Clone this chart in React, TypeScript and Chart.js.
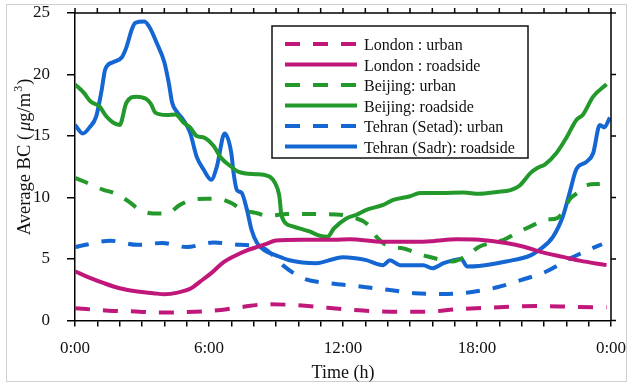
import React, { useEffect, useRef } from 'react';
import { Chart, registerables } from 'chart.js';

Chart.register(...registerables);

const FONT = '"Liberation Serif", "Times New Roman", serif';

// ---- Data (hours of day, BC in µg/m³) ----
const londonUrbanHours = [0, 1.5, 2.9, 3.6, 4.8, 6.2, 7.4, 8.6, 10.0, 11.3, 12.5, 14.1, 15.8, 17.1, 18.3, 19.5, 20.8, 22.2, 23.5, 23.8];
const londonUrbanValues = [1.0, 0.8, 0.72, 0.65, 0.67, 0.8, 1.08, 1.32, 1.24, 1.04, 0.86, 0.72, 0.72, 0.91, 1.02, 1.12, 1.18, 1.12, 1.08, 1.08];

const londonRoadHours = [0, 0.7, 1.3, 2.0, 2.8, 3.5, 4.0, 4.6, 5.2, 5.6, 6.1, 6.6, 7.1, 7.7, 8.2, 8.6, 9.0, 10.1, 11.6, 12.3, 13.8, 15.3, 16.0, 17.1, 18.1, 19.3, 20.1, 20.8, 21.9, 22.6, 23.8];
const londonRoadValues = [4.0, 3.45, 3.03, 2.62, 2.35, 2.22, 2.13, 2.27, 2.62, 3.16, 3.85, 4.66, 5.2, 5.7, 6.0, 6.25, 6.5, 6.56, 6.56, 6.6, 6.4, 6.4, 6.45, 6.6, 6.56, 6.3, 6.0, 5.6, 5.15, 4.87, 4.5];

const beijingUrbanHours = [0, 0.4, 1.3, 1.7, 2.5, 2.8, 3.5, 4.1, 4.7, 5.2, 5.9, 6.4, 7.0, 7.5, 8.2, 8.6, 9.5, 11.1, 12.3, 13.2, 13.5, 14.1, 14.6, 15.3, 15.8, 16.5, 16.9, 17.7, 18.1, 18.9, 19.2, 19.9, 20.4, 21.1, 21.6, 22.2, 22.5, 22.9, 23.5];
const beijingUrbanValues = [11.6, 11.3, 10.6, 10.4, 9.55, 9.1, 8.7, 8.7, 9.4, 9.8, 9.9, 9.9, 9.55, 9.0, 8.7, 8.5, 8.65, 8.65, 8.46, 7.65, 6.8, 6.0, 5.9, 5.5, 5.2, 4.9, 4.8, 5.5, 6.0, 6.4, 6.56, 7.24, 7.65, 8.2, 8.33, 9.96, 10.37, 11.0, 11.1];

const beijingRoadHours = [0, 0.4, 0.7, 1.1, 1.4, 1.7, 2.0, 2.3, 2.75, 3.2, 3.4, 3.6, 4.1, 4.5, 4.85, 5.15, 5.45, 5.8, 6.2, 6.55, 7.0, 7.3, 8.1, 8.45, 8.95, 9.15, 9.25, 9.75, 10.5, 10.95, 11.3, 11.6, 12.15, 12.6, 13.05, 13.8, 14.25, 15.0, 15.45, 16.4, 17.4, 18.1, 18.9, 19.5, 19.9, 20.4, 20.7, 21.05, 21.55, 22.0, 22.45, 22.75, 23.2, 23.8];
const beijingRoadValues = [19.2, 18.5, 17.8, 17.4, 16.6, 16.1, 15.9, 17.7, 18.2, 18.0, 17.6, 16.9, 16.7, 16.75, 16.1, 15.7, 15.0, 14.85, 14.2, 13.2, 12.5, 12.1, 11.9, 11.85, 11.2, 10.1, 8.5, 7.65, 7.24, 6.9, 6.8, 7.5, 8.3, 8.6, 9.0, 9.4, 9.8, 10.1, 10.37, 10.37, 10.4, 10.3, 10.45, 10.6, 10.96, 12.0, 12.4, 12.7, 13.6, 14.85, 16.3, 16.75, 18.2, 19.2];

const tehranUrbanHours = [0, 1.6, 2.8, 3.9, 5.0, 6.2, 7.4, 8.3, 8.8, 9.3, 10.2, 11.4, 12.6, 14.0, 15.2, 16.4, 17.7, 18.9, 20.0, 21.1, 22.2, 23.2, 23.6];
const tehranUrbanValues = [5.97, 6.48, 6.15, 6.3, 5.97, 6.34, 6.15, 6.0, 5.4, 4.5, 3.44, 3.03, 2.8, 2.5, 2.22, 2.16, 2.3, 2.7, 3.3, 3.98, 5.07, 5.9, 6.2];

const tehranRoadHours = [0, 0.35, 0.65, 0.95, 1.2, 1.35, 1.7, 2.1, 2.3, 2.55, 2.7, 3.1, 3.35, 3.65, 4.0, 4.2, 4.35, 4.55, 4.85, 5.15, 5.45, 5.75, 6.1, 6.35, 6.7, 7.0, 7.1, 7.25, 7.45, 7.7, 7.9, 8.15, 8.45, 9.0, 9.6, 10.8, 12.0, 13.0, 13.8, 14.1, 14.55, 15.6, 16.0, 16.5, 16.95, 17.3, 17.55, 18.1, 19.3, 20.4, 20.8, 21.4, 21.85, 22.15, 22.45, 22.9, 23.2, 23.5, 23.7, 23.95];
const tehranRoadValues = [15.9, 15.2, 15.7, 16.6, 18.8, 20.4, 21.0, 21.4, 22.2, 23.7, 24.2, 24.3, 23.8, 22.6, 21.0, 19.3, 17.7, 17.0, 16.3, 15.3, 13.3, 12.3, 11.45, 12.5, 15.2, 13.6, 12.0, 10.6, 10.4, 9.0, 7.4, 6.3, 5.75, 5.3, 4.9, 4.66, 5.15, 4.93, 4.5, 4.9, 4.5, 4.5, 4.25, 4.66, 4.9, 5.0, 4.4, 4.44, 4.8, 5.3, 5.75, 6.8, 8.5, 10.4, 12.3, 12.9, 13.6, 15.9, 15.7, 16.5];

const seriesLabels = ['London : urban', 'London : roadside', 'Beijing: urban', 'Beijing: roadside', 'Tehran (Setad): urban', 'Tehran (Sadr): roadside'];
const xTickHours = [0, 6, 12, 18, 24];
const yTickValues = [0, 5, 10, 15, 20, 25];

const MAGENTA = '#C0187A';
const GREEN = '#22992A';
const BLUE = '#1466D2';

function pts(h: number[], v: number[]) {
  return h.map((x, i) => ({ x, y: v[i] }));
}

const seriesDefs = [
  { h: londonUrbanHours, v: londonUrbanValues, color: MAGENTA, dash: [15, 13] },
  { h: londonRoadHours, v: londonRoadValues, color: MAGENTA, dash: [] as number[] },
  { h: beijingUrbanHours, v: beijingUrbanValues, color: GREEN, dash: [14, 13] },
  { h: beijingRoadHours, v: beijingRoadValues, color: GREEN, dash: [] as number[] },
  { h: tehranUrbanHours, v: tehranUrbanValues, color: BLUE, dash: [14, 13] },
  { h: tehranRoadHours, v: tehranRoadValues, color: BLUE, dash: [] as number[] },
];

function zeroPad(s: any) {
  s.paddingTop = 0;
  s.paddingBottom = 0;
  s.paddingLeft = 0;
  s.paddingRight = 0;
}

const framePlugin = {
  id: 'frame',
  beforeDraw(chart: any) {
    const ctx = chart.ctx;
    ctx.save();
    ctx.fillStyle = '#fff';
    ctx.fillRect(0, 0, chart.width, chart.height);
    ctx.strokeStyle = '#cfcfcf';
    ctx.lineWidth = 1;
    ctx.strokeRect(6.5, 4.5, 620, 377);
    ctx.restore();
  },
  afterDraw(chart: any) {
    const ctx = chart.ctx;
    const { left, right, top, bottom } = chart.chartArea;
    const xs = chart.scales.x;
    const ys = chart.scales.y;
    ctx.save();
    ctx.strokeStyle = '#000';
    ctx.lineWidth = 1.5;
    ctx.beginPath();
    ctx.moveTo(left, top);
    ctx.lineTo(right, top);
    ctx.lineTo(right, bottom);
    for (let h = 0; h <= 24; h++) {
      const px = xs.getPixelForValue(h);
      ctx.moveTo(px, top);
      ctx.lineTo(px, top - 5);
    }
    for (const v of yTickValues) {
      const py = ys.getPixelForValue(v);
      ctx.moveTo(right, py);
      ctx.lineTo(right + 5, py);
    }
    ctx.stroke();

    // y-axis title
    ctx.translate(25, 157);
    ctx.rotate(-Math.PI / 2);
    ctx.fillStyle = '#111';
    ctx.textBaseline = 'middle';
    const parts = [
      { t: 'Average BC (', f: `18.5px ${FONT}`, dy: 0, gap: 3 },
      { t: 'μ', f: `italic 18.5px ${FONT}`, dy: 0, gap: 0 },
      { t: 'g/m', f: `18.5px ${FONT}`, dy: 0, gap: 1 },
      { t: '3', f: `12px ${FONT}`, dy: -6, gap: 1 },
      { t: ')', f: `18.5px ${FONT}`, dy: 0, gap: 0 },
    ];
    let total = 0;
    for (const p of parts) {
      ctx.font = p.f;
      total += ctx.measureText(p.t).width + p.gap;
    }
    let cx = -total / 2;
    for (const p of parts) {
      ctx.font = p.f;
      ctx.fillText(p.t, cx, p.dy);
      cx += ctx.measureText(p.t).width + p.gap;
    }
    ctx.restore();
  },
};

const legendPlugin = {
  id: 'boxLegend',
  afterDatasetsDraw(chart: any) {
    const ctx = chart.ctx;
    ctx.save();
    ctx.fillStyle = '#fff';
    ctx.fillRect(272, 26, 256, 132);
    ctx.strokeStyle = '#111';
    ctx.lineWidth = 1.5;
    ctx.strokeRect(272, 26, 256, 132);
    ctx.font = `16px ${FONT}`;
    ctx.textBaseline = 'middle';
    seriesDefs.forEach((s, i) => {
      const y = 45 + 20.5 * i;
      ctx.strokeStyle = s.color;
      ctx.lineWidth = 4;
      ctx.setLineDash(s.dash.length ? [15, 13] : []);
      ctx.beginPath();
      ctx.moveTo(285, y - 1);
      ctx.lineTo(357, y - 1);
      ctx.stroke();
      ctx.setLineDash([]);
      ctx.fillStyle = '#111';
      ctx.fillText(seriesLabels[i], 364, y + 1);
    });
    ctx.restore();
  },
};

export default function App() {
  const ref = useRef<HTMLCanvasElement>(null);
  useEffect(() => {
    if (!ref.current) return;
    const chart = new Chart(ref.current, {
      type: 'line',
      data: {
        datasets: seriesDefs.map((s, i) => ({
          label: seriesLabels[i],
          data: pts(s.h, s.v),
          borderColor: s.color,
          backgroundColor: s.color,
          borderWidth: 4,
          borderDash: s.dash,
          borderJoinStyle: 'round' as const,
          pointRadius: 0,
          tension: 0.3,
          cubicInterpolationMode: 'monotone' as const,
          fill: false,
        })),
      },
      options: {
        responsive: false,
        animation: false,
        events: [],
        layout: { padding: { left: 0, right: 19, top: 13, bottom: 0 } },
        scales: {
          x: {
            type: 'linear',
            min: 0,
            max: 24,
            afterBuildTicks: (s: any) => {
              const t = [];
              for (let h = 0; h <= 24; h++) t.push({ value: h });
              s.ticks = t;
            },
            afterFit: (s: any) => {
              s.height = 66.5;
              zeroPad(s);
            },
            ticks: {
              autoSkip: false,
              maxRotation: 0,
              padding: 12,
              color: '#111',
              font: { family: FONT, size: 17 },
              callback: (v: any) => (xTickHours.includes(v) ? `${v % 24}:00` : ''),
            },
            grid: { drawOnChartArea: false, drawTicks: true, tickLength: 6, color: '#000', lineWidth: 1.5 },
            border: { display: true, color: '#000', width: 1.5 },
            title: { display: true, text: 'Time (h)', color: '#111', font: { family: FONT, size: 18 }, padding: { top: 0, bottom: 3 } },
          },
          y: {
            type: 'linear',
            min: 0,
            max: 25,
            afterBuildTicks: (s: any) => {
              s.ticks = yTickValues.map((v) => ({ value: v }));
            },
            afterFit: (s: any) => {
              s.width = 75;
              zeroPad(s);
            },
            ticks: {
              padding: 17,
              color: '#111',
              font: { family: FONT, size: 17 },
              callback: (v: any) => `${v}`,
            },
            grid: { drawOnChartArea: false, drawTicks: true, tickLength: 8, color: '#000', lineWidth: 1.5 },
            border: { display: true, color: '#000', width: 1.5 },
          },
        },
        plugins: {
          legend: { display: false },
          tooltip: { enabled: false },
        },
      } as any,
      plugins: [framePlugin, legendPlugin],
    });
    return () => chart.destroy();
  }, []);
  return (
    <div style={{ position: 'absolute', left: 0, top: 0, width: 630, height: 387, background: '#fff' }}>
      <canvas ref={ref} width={630} height={387} style={{ display: 'block', width: 630, height: 387 }} />
    </div>
  );
}
